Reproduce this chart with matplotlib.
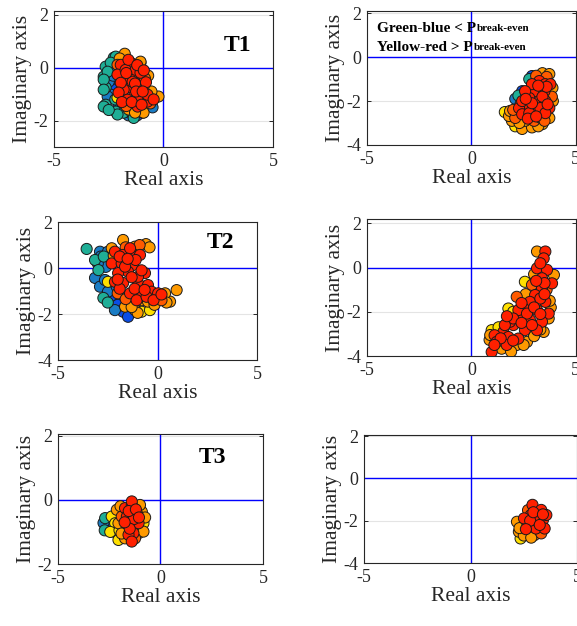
import matplotlib
matplotlib.use("Agg")
import matplotlib.pyplot as plt
from matplotlib.colors import ListedColormap

plt.rcParams['font.family'] = ['Liberation Serif', 'DejaVu Serif']
plt.rcParams['axes.unicode_minus'] = False

# colour levels: 0 blue, 1 steel-blue, 2 teal (green-blue, < P_break-even)
#                3 yellow, 4 orange, 5 orange-red, 6 red (yellow-red, > P_break-even)
level_colors = ['#0a4de6', '#1a7cc4', '#1fae96', '#ffe000', '#ff9a00', '#ff5a00', '#ff2000']
B, S, T, Y, O, R1, R = 0, 1, 2, 3, 4, 5, 6

# ---- panel data (real part, imaginary part, colour level) ----
p1_x = [-2.27, -2.64, -2.41, -2.73, -2.50, -2.64, -2.27, -2.41, -2.64, -2.18, -1.82, -1.95, -2.05, -1.41,
        -1.05, -0.50, -1.36, -2.10, -2.73, -2.41, -2.27, -1.73, -2.18, -2.41, -2.55, -2.73, -2.73, -2.55,
        -1.20, -2.00, -1.90, -2.30, -2.20, -2.50, -2.35, -1.60, -0.90, -2.00,
        -2.10, -1.05, -0.95, -1.77, -1.95, -1.50, -2.10, -1.64, -1.36, -1.14, -1.50, -1.82, -1.36, -1.05,
        -1.18, -0.73, -1.64, -1.73, -1.27, -1.05, -1.95, -1.41, -0.91, -0.73, -2.05, -1.59, -0.91, -0.23,
        -0.59, -2.10, -1.05, -1.20, -0.85, -1.70, -0.60,
        -1.60, -1.20, -0.90, -1.70, -1.30, -0.80, -1.90, -1.45, -1.00, -0.45, -1.25, -0.95,
        -0.70, -0.55, -2.00, -1.30]
p1_y = [0.38, 0.04, -0.08, -0.34, -0.53, -0.75, -0.64, -1.02, -1.40, -1.66, -1.70, -1.40, -1.47, -1.77,
        -1.70, -1.50, -1.90, -1.77, -1.47, -0.53, -0.83, -1.20, 0.42, 0.19, -0.15, -0.45, -0.83, -1.09,
        -1.80, -1.00, -0.30, -0.30, -1.20, -1.60, 0.00, -1.80, -1.50, -0.50,
        -1.13, 0.19, -1.70, 0.53, 0.11, 0.19, -0.26, -0.45, -0.34, -0.72, -0.75, -0.83, -1.09, -1.13,
        -1.47, -1.28, -1.21, -0.08, -0.08, -0.19, -0.57, -0.53, -0.72, -1.02, -0.94, -1.58, -1.70, -1.09,
        -1.13, 0.11, 0.23, -0.40, -0.40, -1.45, -1.35,
        0.30, 0.10, -0.10, -0.20, -0.60, -0.55, -1.30, -1.30, -1.40, -1.20, -0.90, -0.90,
        -0.30, -0.90, 0.35, -1.70]
p1_c = [T, T, B, T, S, T, B, S, T, T, T, S, B, T, B, S, T, T, T, B, B, B, T, T, T, T, T, S, B, S, S,
        S, T, T, S, S, B, B,
        Y, Y, O, O, R, R, R, R, R, R, R, R, R, R, R, R, R, R, R, R, R, R, R, R, R, O, O, O, O, R1, O,
        R1, R1, R1, R1,
        R, R, R, R, R, R, R, R, R, R, R, R,
        O, O, O, O]

p2_x = [1.60, 2.77, 2.90, 2.10, 2.43, 2.25, 2.43, 1.94, 2.90, 3.40, 1.80, 2.57, 3.73, 3.40, 3.73, 3.88,
        2.10, 3.25, 3.54, 3.06, 3.50, 2.77, 3.25, 2.57, 3.06, 2.28, 2.43, 2.77, 3.54, 3.73, 2.90, 3.78,
        3.30, 2.43, 3.00, 3.54, 2.10, 2.57, 3.10, 3.60, 3.85, 2.00, 3.30,
        2.90, 3.40, 2.70, 3.10, 3.60, 2.60, 3.20, 3.65, 2.30, 3.20, 3.90, 1.85, 2.15, 3.50, 2.35]
p2_y = [-2.50, -1.00, -0.86, -1.90, -1.55, -1.75, -3.27, -2.90, -3.20, -3.05, -2.68, -2.90, -2.77, -0.73,
        -0.77, -1.40, -3.15, -1.09, -1.23, -1.55, -1.55, -1.86, -2.00, -2.32, -2.45, -2.32, -2.60, -2.55,
        -2.00, -2.32, -1.23, -1.23, -2.32, -2.00, -2.90, -2.55, -2.77, -1.55, -0.85, -0.90, -1.80, -2.40,
        -2.75,
        -2.10, -1.80, -2.80, -2.70, -1.35, -1.90, -1.30, -2.15, -3.00, -3.15, -2.00, -2.45, -2.55, -2.90,
        -2.15]
p2_c = [Y, T, B, S, B, T, O, O, O, O, O, O, O, O, O, O, Y, R, R, R, R, R, R, R, R, R, R, R, R, R, R, R,
        R, R, R1, R, R1, R, R1, R1, R1, R1, R1,
        R, R, R, R, R, R, R, R, O, O, O, O, O, R1, R1]

p3_x = [-3.56, -2.89, -3.14, -2.97, -3.14, -2.89, -2.64, -2.72, -2.49, -2.24, -2.14, -1.73, -1.48, -1.80,
        -2.49, -2.74, -2.05, -2.60, -2.30, -2.85, -2.70, -3.00, -2.50, -2.00,
        -2.49, -0.80, -0.38,
        -1.73, -1.13, -0.58, -2.30, 0.96, 0.63, 0.38, -1.13, -0.23, -0.80, -0.48, -1.63, -1.00,
        -0.40, -1.30, -0.15, 0.45, -2.20,
        -2.14, -1.73, -1.30, -0.88, -1.38, -2.30, -1.80, -1.23, -1.48, -1.98, -0.63, -1.73, -0.98, -0.48,
        -1.38, -0.80, -0.30, 0.03, -1.05, -0.55, -2.14, -1.63, -0.98, -0.90, -1.60, -2.00, -1.60, 0.20,
        -1.90, -1.10, -1.50, -1.30, -1.90, -1.15, -0.65, -0.20, 0.20, -0.80, -2.00]
p3_y = [0.83, 0.71, 0.35, -0.09, -0.43, -0.81, -0.52, -1.30, -1.03, -1.46, -1.83, -1.90, -2.12, -1.60,
        0.71, 0.20, -0.81, 0.05, -1.20, 0.50, 0.50, 0.20, -1.50, -1.60,
        -0.60, -1.90, -1.83,
        1.22, 0.93, 1.04, 0.86, -0.96, -1.46, -1.10, -1.83, -1.25, -1.40, -1.46, -1.68, -1.95,
        0.90, -1.70, -1.60, -1.50, 0.55,
        0.71, 0.57, 0.57, 0.57, 0.86, 0.20, 0.20, 0.13, -0.16, -0.22, -0.22, -0.65, -0.65, -0.74,
        -1.10, -1.10, -1.03, -1.10, -1.40, -1.25, -0.60, 0.06, -0.38, 1.00, 0.90, -1.10, -1.35, -1.40,
        0.50, 0.35, 0.40, -0.40, -0.90, -0.90, -0.95, -1.40, -1.15, -0.10, -0.50]
p3_c = [T, S, T, T, S, S, S, T, S, B, S, B, B, B, S, S, S, S, B, S, T, S, T, B,
        Y, Y, Y,
        O, O, O, O, O, O, O, O, O, O, O, O, O,
        O, O, O, O, O,
        R, R, R, R, R, R, R, R, R, R, R, R, R, R, R, R, R, R, R, R, R, R, R, R1, R1, R1, R1, R1,
        R, R, R, R, R, R, R, R, R, R, R]

p4_x = [3.14, 3.54, 3.46, 3.14, 3.62, 3.95, 3.38, 3.86, 2.90, 3.38, 3.05, 3.54, 2.80, 2.17, 2.56, 1.77,
        2.50, 3.14, 3.70, 2.30, 2.80, 3.38, 2.01, 2.56, 3.14, 1.53, 1.11, 0.87, 1.21, 1.77, 2.25, 2.66,
        1.69, 2.17, 0.97, 1.45, 0.97, 3.46, 1.85, 3.70, 2.25, 2.66, 3.60, 3.00, 2.60, 3.80, 1.30, 2.00,
        3.00, 1.90, 3.30,
        3.30, 3.50, 3.10, 3.00, 2.40, 2.00, 1.60, 1.40, 2.00, 2.40, 3.30, 3.50, 1.10, 2.90, 1.70,
        3.75, 2.50, 0.90, 3.30]
p4_y = [0.73, 0.73, 0.42, -0.03, -0.10, -0.33, -0.48, -0.71, -0.78, -0.94, -1.24, -1.55, -1.55, -1.32,
        -0.64, -1.85, -1.85, -1.92, -2.08, -2.30, -2.37, -2.45, -2.60, -2.83, -2.83, -2.91, -3.06, -3.27,
        -3.36, -3.14, -3.21, -3.36, -3.50, -3.50, -3.82, -3.67, -2.83, -2.91, -2.45, -2.30, -1.92, -2.08,
        -1.00, -0.30, -1.20, -1.80, -2.70, -2.00, -3.10, -3.80, -1.40,
        0.20, -0.70, -0.60, -1.80, -1.60, -2.30, -2.60, -3.20, -3.30, -2.50, -2.10, -1.20, -3.50, -2.60,
        -2.20,
        -1.50, -3.50, -3.05, -2.80]
p4_c = [O, R, R, R, R, O, R, R, R1, R, R, R, R, R1, Y, Y, R, R, R, R, R, R, R, R, R, R, R, O, R, R, R, O,
        R, O, R, O, Y, O, R, O, R, R, R1, O, O, O, Y, Y, O, O, R,
        R, R, R, R, R, R, R, R, R, R, R, R, R, R, R,
        O, O, O, O]

p5_x = [-2.70, -2.78, -2.62, -2.72, -2.38, -2.13, -2.29, -2.05, -1.73, -1.40, -1.15, -1.48, -1.64, -0.91,
        -0.83, -1.07, -1.80, -1.32, -1.07, -1.56, -2.05, -1.89, -1.00, -1.24, -2.21, -1.73, -1.40, -0.83,
        -1.30, -1.55,
        -1.50, -1.20, -1.75, -1.05, -1.40, -1.90, -0.75, -1.95, -2.45, -2.00]
p5_y = [-0.57, -0.72, -0.88, -0.95, -0.52, -0.31, -0.99, -1.25, -0.26, -0.16, -0.42, -0.73, -0.52, -0.37,
        -0.73, -0.73, -0.83, -1.04, -1.04, -1.09, -0.73, -0.52, -0.16, -1.20, -0.73, -1.20, -0.05, -0.99,
        -0.60, -0.35,
        -0.90, -0.30, -0.70, -0.55, -1.30, -1.05, -0.55, -0.20, -1.00, -0.95]
p5_c = [T, S, B, T, Y, O, Y, Y, R, R, R, R, R, O, Y, R, O, R, O, R, O, R1, O, R1, Y, O, R, O, R, R,
        R, R, R, R, R, O, O, O, Y, Y]

p6_x = [2.91, 3.16, 3.40, 3.32, 2.83, 2.67, 3.07, 3.48, 2.35, 2.27, 2.35, 2.67, 3.00, 3.32, 2.51, 3.56,
        2.18, 2.70, 3.10,
        2.80, 3.25, 2.95, 2.60, 3.40, 2.50, 2.85, 2.30]
p6_y = [-1.25, -1.81, -1.97, -1.49, -1.73, -2.13, -2.37, -2.37, -2.20, -2.52, -2.84, -2.68, -2.68, -2.60,
        -1.89, -1.73, -2.05, -1.50, -2.00,
        -2.00, -2.20, -1.60, -2.40, -1.70, -2.70, -2.80, -2.35]
p6_c = [R, R, R, R, R, R, R, R, O, O, Y, O, O, R1, R, R, O, R1, R,
        R, R, R, R, R, O, O, O]

panels = [
    # data, axes rect [left, bottom, width, height], ylim, yticks, label
    ((p1_x, p1_y, p1_c), [0.0936, 0.7652, 0.3795, 0.2173], (-3, 2.15), [-2, 0, 2], 'T1'),
    ((p2_x, p2_y, p2_c), [0.6360, 0.7684, 0.3620, 0.2140], (-4, 2.1), [-4, -2, 0, 2], None),
    ((p3_x, p3_y, p3_c), [0.1005, 0.4249, 0.3450, 0.2204], (-4, 2.0), [-4, -2, 0, 2], 'T2'),
    ((p4_x, p4_y, p4_c), [0.6360, 0.4313, 0.3620, 0.2188], (-4, 2.2), [-4, -2, 0, 2], None),
    ((p5_x, p5_y, p5_c), [0.1005, 0.0990, 0.3553, 0.2077], (-2, 2.05), [-2, 0, 2], 'T3'),
    ((p6_x, p6_y, p6_c), [0.6310, 0.1006, 0.3690, 0.2045], (-4, 2.05), [-4, -2, 0, 2], None),
]
label_pos = {'T1': (3.36, 0.86), 'T2': (3.14, 1.09), 'T3': (2.55, 1.31)}

cmap = ListedColormap(level_colors)
fig = plt.figure(figsize=(5.77, 6.26), dpi=100)

for (xs, ys, cs), rect, ylim, yticks, lab in panels:
    ax = fig.add_axes(rect)
    order = sorted(range(len(xs)), key=lambda i: cs[i])
    ax.scatter([xs[i] for i in order], [ys[i] for i in order], c=[cs[i] for i in order],
               cmap=cmap, vmin=-0.5, vmax=6.5, s=64, edgecolors='#1a1a1a', linewidths=0.7, zorder=3)
    ax.axhline(0, color='#0000ff', lw=1.0, zorder=2)
    ax.axvline(0, color='#0000ff', lw=1.0, zorder=2)
    ax.set_xlim(-5, 5)
    ax.set_ylim(*ylim)
    ax.set_xticks([-5, 0, 5])
    ax.set_yticks(yticks)
    ax.grid(True, color='#e4e4e4', lw=0.8, zorder=0)
    ax.set_axisbelow(True)
    ax.tick_params(direction='in', length=3, width=0.7, top=True, right=True,
                   labelsize=13, colors='#262626', pad=4)
    for sp in ax.spines.values():
        sp.set_linewidth(0.8)
        sp.set_color('#262626')
    ax.set_xlabel('Real axis', fontsize=15.5, color='#262626', labelpad=1)
    ax.set_ylabel('Imaginary axis', fontsize=15.5, color='#262626', labelpad=1)
    if lab:
        lx, ly = label_pos[lab]
        ax.text(lx, ly, lab, fontsize=17, fontweight='bold', ha='center', va='center', zorder=4)
    if rect[0] > 0.5 and rect[1] > 0.7:
        t1 = ax.text(-4.5, 1.32, 'Green-blue < P', fontsize=11, fontweight='bold', va='center', zorder=4)
        ax.annotate('break-even', xy=(1, 0), xycoords=t1, xytext=(0.3, 1.5), textcoords='offset points',
                    fontsize=8, fontweight='bold', va='bottom', ha='left', zorder=4)
        t2 = ax.text(-4.5, 0.45, 'Yellow-red > P', fontsize=11, fontweight='bold', va='center', zorder=4)
        ax.annotate('break-even', xy=(1, 0), xycoords=t2, xytext=(0.3, 1.5), textcoords='offset points',
                    fontsize=8, fontweight='bold', va='bottom', ha='left', zorder=4)

fig.savefig('out.png', dpi=100)
